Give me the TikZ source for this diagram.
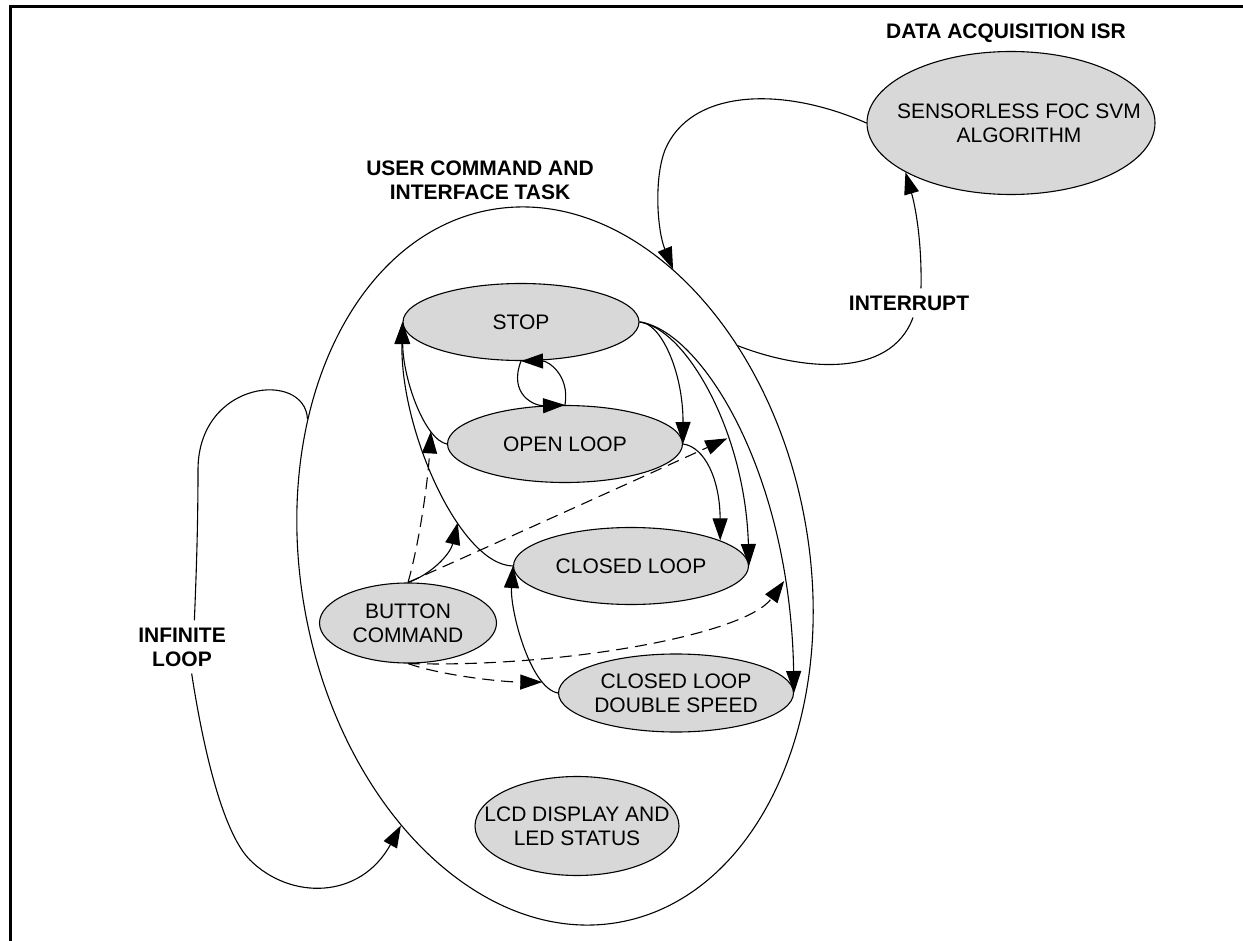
\documentclass[tikz,border=0pt]{standalone}
\usepackage{fontspec}
\setmainfont{Liberation Sans}
\usetikzlibrary{shapes.geometric,arrows.meta}
\definecolor{stategray}{RGB}{216,216,216}

\begin{document}
\begin{tikzpicture}[x=0.5pt,y=-0.5pt,line width=0.55pt,
  font=\fontsize{10.5}{12}\selectfont,
  stateell/.style={ellipse,draw,fill=stategray,inner sep=0pt,align=center},
  heading/.style={font=\fontsize{10.5}{12}\selectfont\bfseries,align=center},
  trans/.style={-{Triangle[length=11pt,width=7.5pt]}},
  btn/.style={trans,dash pattern=on 6pt off 3.5pt}]
\useasboundingbox (0,0) rectangle (1243,941);
\draw[line width=1.5pt] (1243,6.5) -- (10.7,6.5) -- (10.7,941);

% task and isr
\node[draw,ellipse,rotate=10.3,minimum width=254pt,minimum height=362pt,inner sep=0pt] (task) at (555,566) {};
\node[stateell,minimum width=144pt,minimum height=71.5pt,
  label={[align=center,xshift=4pt]center:SENSORLESS FOC SVM\\ALGORITHM}] (isr) at (1011,123) {};

\node[heading] (tasklbl) at (480,180) {USER COMMAND AND\\INTERFACE TASK};
\node[heading] (isrlbl) at (1006,33) {DATA ACQUISITION ISR};
\node[heading] (intlbl) at (909,303) {INTERRUPT};
\node[heading] (inflbl) at (182,647) {INFINITE\\LOOP};

% states
\node[stateell,minimum width=118pt,minimum height=38.5pt] (stop) at (521,322) {STOP};
\node[stateell,minimum width=117.5pt,minimum height=38.5pt] (open) at (565,444) {OPEN LOOP};
\node[stateell,minimum width=117.5pt,minimum height=38.5pt] (closed) at (631,566) {CLOSED LOOP};
\node[stateell,minimum width=88.5pt,minimum height=40pt] (button) at (408,623) {BUTTON\\COMMAND};
\node[stateell,minimum width=117.5pt,minimum height=39pt] (double) at (676,693) {CLOSED LOOP\\DOUBLE SPEED};
\node[stateell,minimum width=102pt,minimum height=49.5pt,
  label={[align=center]center:LCD DISPLAY AND\\LED STATUS}] (lcd) at (577,826) {};

% transitions
\draw[trans] (stop.south) .. controls (508,395) and (535,406) .. (open.north);
\draw[trans] (open.north) .. controls (570,375) and (548,361) .. (stop.south);
\draw[trans] (stop.east) .. controls (660,322) and (683,370) .. (open.east);
\draw[trans] (stop.east) .. controls (685,328) and (745,430) .. (closed.east) coordinate[pos=0.65] (onStopClosed);
\draw[trans] (stop.east) .. controls (700,330) and (790,470) .. (double.east) coordinate[pos=0.82] (onStopDouble);
\draw[trans] (open.east) .. controls (705,447) and (720,480) .. (closed.16);
\draw[trans] (open.west) .. controls (425,440) and (403,380) .. (stop.west) coordinate[pos=0.25] (onOpenStop);
\draw[trans] (closed.west) .. controls (460,565) and (400,430) .. (stop.west) coordinate[pos=0.35] (onClosedStop);
\draw[trans] (double.west) .. controls (530,688) and (510,610) .. (closed.west) coordinate[pos=0.2] (onDoubleClosed);

% button commands
\draw[btn] (button.north) .. controls (420,540) and (428,480) .. (onOpenStop);
\draw[trans] (button.north) .. controls (430,575) and (450,555) .. (onClosedStop);
\draw[btn] (button.north) .. controls (470,555) and (680,460) .. (onStopClosed);
\draw[btn] (button.south) .. controls (560,668) and (745,635) .. (onStopDouble);
\draw[btn] (button.south) .. controls (440,675) and (500,682) .. (onDoubleClosed);

% loops
\draw (task.139.1) .. controls (305,370) and (198,380) .. (198,470)
  .. controls (198,530) and (196,580) .. (inflbl.65);
\draw[trans] (inflbl.-70) .. controls (205,760) and (225,835) .. (250,860)
  .. controls (290,900) and (360,900) .. (task.-131.1);
\draw[trans] (isr.west) .. controls (780,85) and (690,90) .. (665,150)
  .. controls (654,178) and (657,230) .. (task.58.7);
\draw (task.40.7) .. controls (800,370) and (890,380) .. ([xshift=2pt]intlbl.south);
\draw[trans] ([xshift=6pt]intlbl.north) .. controls (922,240) and (915,205) .. (isr.205);
\end{tikzpicture}
\end{document}
